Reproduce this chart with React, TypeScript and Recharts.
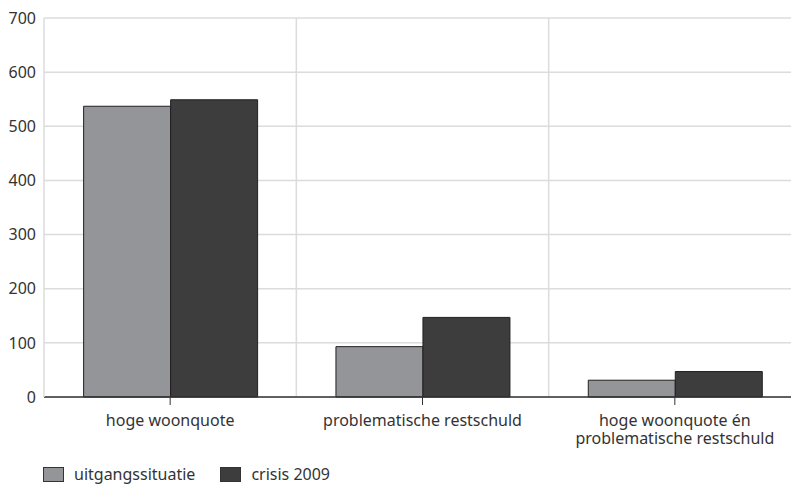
import { BarChart, Bar, XAxis, YAxis, CartesianGrid } from "recharts";

const categories = [
  "hoge woonquote",
  "problematische restschuld",
  "hoge woonquote én\nproblematische restschuld",
];
const uitgangssituatie = [537, 93, 31];
const crisis2009 = [549, 147, 47];
const yTicks = [0, 100, 200, 300, 400, 500, 600, 700];

const seriesNames = ["uitgangssituatie", "crisis 2009"];
const seriesColors = ["#939598", "#3d3d3d"];

const data = categories.map((cat, i) => ({
  cat,
  a: uitgangssituatie[i],
  b: crisis2009[i],
}));

const CategoryTick = ({ x, y, payload }: any) => {
  const lines = String(payload.value).split("\n");
  return (
    <text x={x} y={y} textAnchor="middle" fill="#333" fontSize={16}>
      {lines.map((line, i) => (
        <tspan key={i} x={x} dy={i === 0 ? 19 : 18}>
          {line}
        </tspan>
      ))}
    </text>
  );
};

export default function App() {
  return (
    <div
      style={{
        position: "absolute",
        left: 0,
        top: 0,
        width: 791,
        height: 484,
        overflow: "hidden",
        background: "#fff",
        fontFamily: "'Noto Sans', sans-serif",
        color: "#333",
      }}
    >
      <BarChart
        width={801}
        height={450}
        data={data}
        margin={{ top: 18, right: 0, left: 0, bottom: 0 }}
        barCategoryGap="15.7%"
        barGap={0}
      >
        <CartesianGrid
          stroke="#dcdcdc"
          strokeWidth={1.5}
          verticalCoordinatesGenerator={({ offset }: any) =>
            [1, 2].map((i) => offset.left + (offset.width * i) / 3)
          }
        />
        <XAxis
          dataKey="cat"
          interval={0}
          height={53}
          axisLine={{ stroke: "#333", strokeWidth: 1.5 }}
          tickLine={{ stroke: "#333" }}
          tickSize={8}
          tick={<CategoryTick />}
        />
        <YAxis
          width={44}
          domain={[0, 700]}
          ticks={yTicks}
          axisLine={{ stroke: "#dcdcdc", strokeWidth: 1.5 }}
          tickLine={false}
          tick={{ fill: "#333", fontSize: 16 }}
        />
        <Bar dataKey="a" name={seriesNames[0]} fill={seriesColors[0]} stroke="#231f20" strokeWidth={1} isAnimationActive={false} />
        <Bar dataKey="b" name={seriesNames[1]} fill={seriesColors[1]} stroke="#231f20" strokeWidth={1} isAnimationActive={false} />
      </BarChart>
      <div
        style={{
          position: "absolute",
          top: 464,
          left: 43,
          display: "flex",
          alignItems: "center",
          fontSize: 16,
          lineHeight: "20px",
        }}
      >
        {seriesNames.map((name, i) => (
          <div key={name} style={{ display: "flex", alignItems: "center", marginRight: 25 }}>
            <span
              style={{
                display: "inline-block",
                width: 19,
                height: 13,
                background: seriesColors[i],
                border: "1px solid #333",
                marginRight: 10,
              }}
            />
            <span>{name}</span>
          </div>
        ))}
      </div>
    </div>
  );
}
